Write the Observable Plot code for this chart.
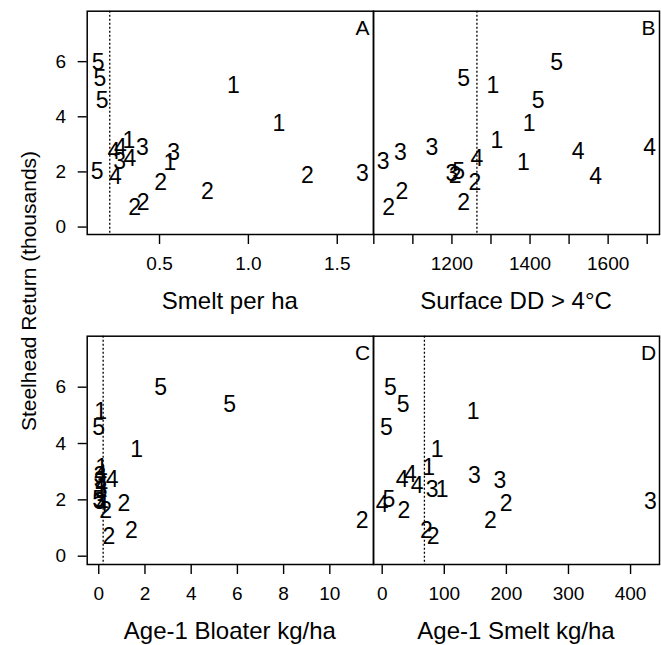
<!DOCTYPE html>
<html><head><meta charset="utf-8">
<script src="https://cdn.jsdelivr.net/npm/d3@7"></script>
<script src="https://cdn.jsdelivr.net/npm/@observablehq/plot@0.6"></script>
<style>
body{margin:0;background:#fff;}
#chart{position:relative;width:661px;height:645px;font-family:"Liberation Sans",Arial,sans-serif;color:#000;overflow:hidden;}
#chart svg{position:absolute;left:0;top:0;}
.t{position:absolute;white-space:nowrap;line-height:1;color:#000;}
</style></head><body><div id="chart"></div>
<script>
// Year groups (plotted as digits)
const group      = [5, 5, 5, 5, 1, 1, 1, 1, 4, 4, 4, 4, 3, 3, 3, 3, 2, 2, 2, 2, 2];
// Steelhead return (thousands)
const steelhead  = [5.97, 5.38, 4.57, 2.0, 5.12, 3.77, 3.14, 2.35, 1.82, 2.72, 2.88, 2.5, 2.87, 2.36, 2.7, 1.93, 1.85, 1.62, 1.28, 0.71, 0.9];
// Panel A: Smelt per ha
const smeltPerHa = [0.155, 0.164, 0.177, 0.149, 0.915, 1.172, 0.327, 0.558, 0.252, 0.243, 0.28, 0.333, 0.403, 0.276, 0.58, 1.641, 1.332, 0.506, 0.769, 0.36, 0.408];
// Panel B: Surface DD > 4°C
const surfaceDD  = [1468, 1230, 1421, 1217, 1305, 1398, 1315, 1383, 1568, 1523, 1706, 1264, 1149, 1024, 1068, 1200, 1208, 1259, 1072, 1038, 1230];
// Panel C: Age-1 Bloater kg/ha
const bloater    = [2.68, 5.66, 0.0, 0.0, 0.08, 1.64, 0.12, 0.1, 0.15, 0.58, 0.08, 0.12, 0.05, 0.1, 0.06, 0.03, 1.09, 0.3, 11.4, 0.44, 1.41];
// Panel D: Age-1 Smelt kg/ha
const age1Smelt  = [13.4, 33.8, 6.9, 10.6, 146.5, 88.6, 75, 96.6, 0, 32.2, 45.6, 56.4, 148.6, 80.5, 189.4, 432, 199.7, 34.8, 174.4, 82.1, 71.3];

// Tick values / labels
const yTicks = [0, 2, 4, 6];
const ticksA = [0.5, 1.0, 1.5];
const ticksB = [1000, 1100, 1200, 1300, 1400, 1500, 1600, 1700];
const labelsB = [1200, 1400, 1600];
const ticksC = [0, 2, 4, 6, 8, 10];
const ticksD = [0, 100, 200, 300, 400];
const cutoffs = {A: 0.22, B: 1264, C: 0.19, D: 68};
const xTitles = {A: "Smelt per ha", B: "Surface DD > 4°C", C: "Age-1 Bloater kg/ha", D: "Age-1 Smelt kg/ha"};

const rows = group.map((g, i) => ({g: String(g), y: steelhead[i], A: smeltPerHa[i], B: surfaceDD[i], C: bloater[i], D: age1Smelt[i]}));

const W = 661, H = 645;
const FONT = "'Liberation Sans', Arial, sans-serif";
const chart = document.getElementById("chart");

function panel(key, {fl, fr, ft, fb, xdomain, ydomain, ticks, fmt, yaxis}) {
  const marks = [
    Plot.frame({stroke: "#000", strokeWidth: 1.5}),
    Plot.ruleX([cutoffs[key]], {stroke: "#000", strokeWidth: 1.3, strokeDasharray: "2,2"}),
    Plot.text(rows, {x: key, y: "y", text: "g", fontSize: 23, fill: "#000"}),
    Plot.text([key], {frameAnchor: "top-right", text: d => d, dx: -11, dy: 17, textAnchor: "middle", lineAnchor: "middle", fontSize: 21, fill: "#000"}),
    Plot.axisX({ticks, tickFormat: fmt, tickSize: 10, tickPadding: 12, fontSize: 19, label: null, stroke: "#000", strokeWidth: 1.4})
  ];
  if (yaxis) marks.push(Plot.axisY({ticks: yTicks, tickSize: 9, tickPadding: 12, fontSize: 19, label: null, stroke: "#000", strokeWidth: 1.4}));
  const svg = Plot.plot({
    width: W, height: H,
    marginLeft: fl, marginRight: W - fr, marginTop: ft, marginBottom: H - fb,
    x: {domain: xdomain},
    y: {domain: ydomain, axis: yaxis ? undefined : null},
    style: {background: "transparent", fontFamily: FONT, color: "#000", overflow: "visible"},
    marks
  });
  chart.appendChild(svg);
  const t = document.createElement("div");
  t.className = "t";
  t.textContent = xTitles[key];
  t.style.fontSize = "24px";
  t.style.left = ((fl + fr) / 2) + "px";
  t.style.top = (fb + 55) + "px";
  t.style.transform = "translateX(-50%)";
  chart.appendChild(t);
}

panel("A", {fl: 86.7, fr: 373, ft: 10.7, fb: 234, xdomain: [0.093, 1.704], ydomain: [-0.27, 7.83], ticks: ticksA, fmt: d3.format(".1f"), yaxis: true});
panel("B", {fl: 373, fr: 659, ft: 10.7, fb: 234, xdomain: [999.2, 1731.5], ydomain: [-0.27, 7.83], ticks: ticksB, fmt: d => labelsB.includes(d) ? String(d) : "", yaxis: false});
panel("C", {fl: 86.7, fr: 373, ft: 335.7, fb: 564, xdomain: [-0.5, 11.89], ydomain: [-0.295, 7.81], ticks: ticksC, fmt: d => String(d), yaxis: true});
panel("D", {fl: 373, fr: 659, ft: 335.7, fb: 564, xdomain: [-14, 446.6], ydomain: [-0.295, 7.81], ticks: ticksD, fmt: d => String(d), yaxis: false});

const yl = document.createElement("div");
yl.className = "t";
yl.textContent = "Steelhead Return (thousands)";
yl.style.fontSize = "21px";
yl.style.left = "28px";
yl.style.top = "291px";
yl.style.transform = "translate(-50%,-50%) rotate(-90deg)";
chart.appendChild(yl);
</script>
</body></html>
